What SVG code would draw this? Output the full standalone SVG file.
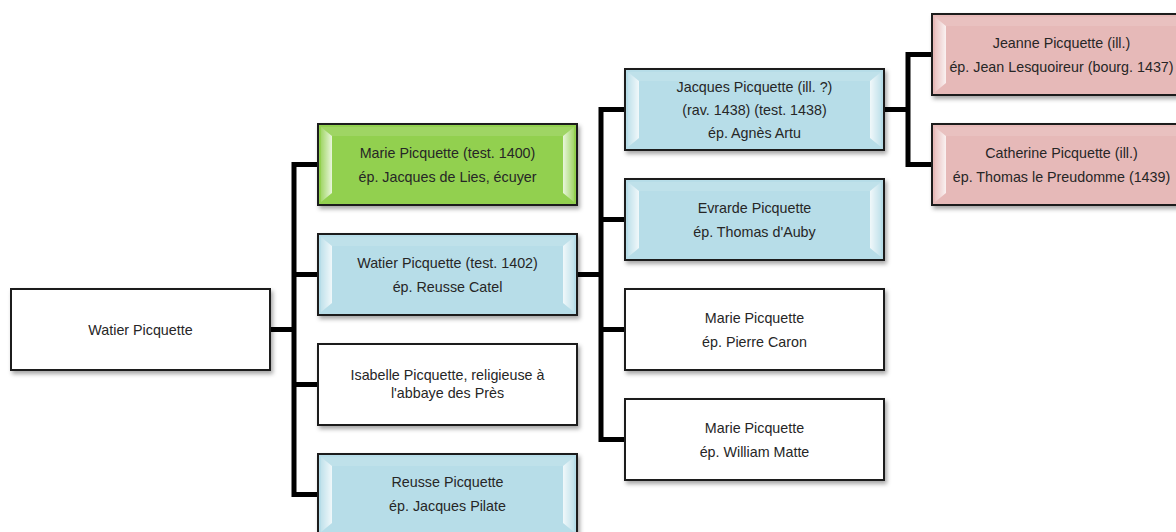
<svg xmlns="http://www.w3.org/2000/svg" width="1176" height="532" viewBox="0 0 1176 532">
<defs>
<filter id="sh" x="-5%" y="-10%" width="115%" height="130%">
<feDropShadow dx="2" dy="3" stdDeviation="2" flood-color="#000" flood-opacity="0.35"/>
</filter>
<linearGradient id="bl" x1="0" y1="0" x2="1" y2="0">
<stop offset="0" stop-color="#fff" stop-opacity="0.15"/>
<stop offset="1" stop-color="#fff" stop-opacity="0.8"/>
</linearGradient>
<linearGradient id="br" x1="1" y1="0" x2="0" y2="0">
<stop offset="0" stop-color="#fff" stop-opacity="0.15"/>
<stop offset="1" stop-color="#fff" stop-opacity="0.8"/>
</linearGradient>
<symbol id="bev" viewBox="0 0 259 81" preserveAspectRatio="none">
<polygon points="3,3 14,12 14,69 3,78" fill="url(#bl)"/>
<polygon points="256,3 245,12 245,69 256,78" fill="url(#br)"/>
<polygon points="3,3 256,3 245,12 14,12" fill="#fff" fill-opacity="0.12"/>
</symbol>
</defs>
<style>
.box{stroke:#1a1a1a;stroke-width:2;filter:url(#sh)}
.w{fill:#ffffff}
.g{fill:#92d050}
.b{fill:#b7dde8}
.p{fill:#e6b9b8}
text{font-family:"Liberation Sans",Arial,sans-serif;font-size:14.3px;fill:#262626;text-anchor:middle}
.c{stroke:#000;stroke-width:5;fill:none}
</style>
<g id="connectors">
<path class="c" d="M270,329.5H294M294,162V497M294,164.5H318M294,274.5H318M294,384.5H318M294,494.5H318"/>
<path class="c" d="M577,274.5H601M601,107V442M601,109.5H625M601,219.5H625M601,329.5H625M601,439.5H625"/>
<path class="c" d="M884,109.5H908M908,52V167M908,54.5H932M908,164.5H932"/>
</g>
<g id="n0"><rect class="box w" x="11" y="289" width="259" height="81"/><text x="140.5" y="334.5">Watier Picquette</text></g>
<g id="n1"><rect class="box g" x="318" y="124" width="259" height="81"/><use href="#bev" x="318" y="124" width="259" height="81"/><text x="447.5" y="158">Marie Picquette (test. 1400)</text><text x="447.5" y="182">ép. Jacques de Lies, écuyer</text></g>
<g id="n2"><rect class="box b" x="318" y="234" width="259" height="81"/><use href="#bev" x="318" y="234" width="259" height="81"/><text x="447.5" y="268">Watier Picquette (test. 1402)</text><text x="447.5" y="292">ép. Reusse Catel</text></g>
<g id="n3"><rect class="box w" x="318" y="344" width="259" height="81"/><text x="447.5" y="380">Isabelle Picquette, religieuse à</text><text x="447.5" y="398">l'abbaye des Près</text></g>
<g id="n4"><rect class="box b" x="318" y="454" width="259" height="81"/><use href="#bev" x="318" y="454" width="259" height="81"/><text x="447.5" y="487">Reusse Picquette</text><text x="447.5" y="511">ép. Jacques Pilate</text></g>
<g id="n5"><rect class="box b" x="625" y="69" width="259" height="81"/><use href="#bev" x="625" y="69" width="259" height="81"/><text x="754.5" y="92">Jacques Picquette (ill. ?)</text><text x="754.5" y="115">(rav. 1438) (test. 1438)</text><text x="754.5" y="138">ép. Agnès Artu</text></g>
<g id="n6"><rect class="box b" x="625" y="179" width="259" height="81"/><use href="#bev" x="625" y="179" width="259" height="81"/><text x="754.5" y="212.5">Evrarde Picquette</text><text x="754.5" y="236.5">ép. Thomas d'Auby</text></g>
<g id="n7"><rect class="box w" x="625" y="289" width="259" height="81"/><text x="754.5" y="322.5">Marie Picquette</text><text x="754.5" y="346.5">ép. Pierre Caron</text></g>
<g id="n8"><rect class="box w" x="625" y="399" width="259" height="81"/><text x="754.5" y="432.5">Marie Picquette</text><text x="754.5" y="456.5">ép. William Matte</text></g>
<g id="n9"><rect class="box p" x="932" y="14" width="259" height="81"/><use href="#bev" x="932" y="14" width="259" height="81"/><text x="1061.5" y="47.5">Jeanne Picquette (ill.)</text><text x="1061.5" y="71.5">ép. Jean Lesquoireur (bourg. 1437)</text></g>
<g id="n10"><rect class="box p" x="932" y="124" width="259" height="81"/><use href="#bev" x="932" y="124" width="259" height="81"/><text x="1061.5" y="157.5">Catherine Picquette (ill.)</text><text x="1061.5" y="181.5">ép. Thomas le Preudomme (1439)</text></g>
</svg>
